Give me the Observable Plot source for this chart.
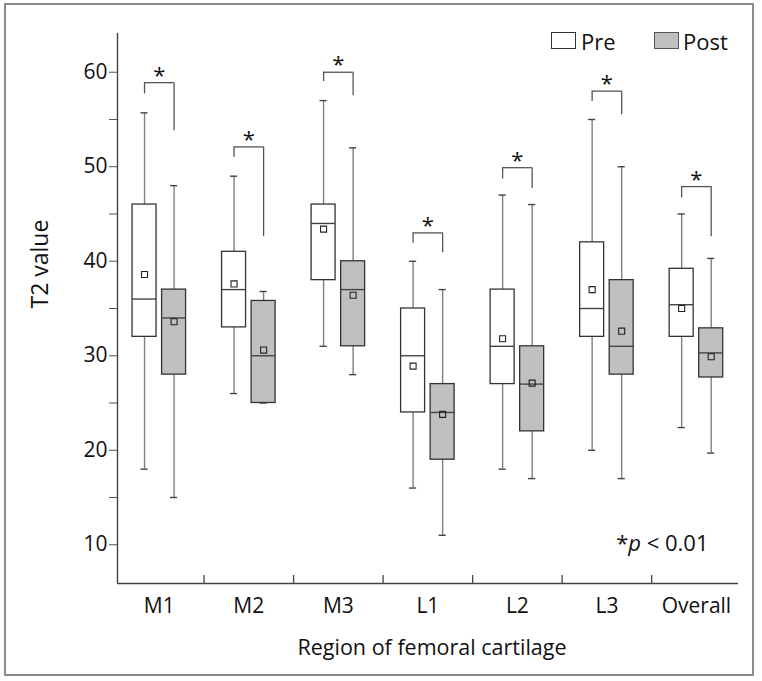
<!DOCTYPE html>
<html>
<head>
<meta charset="utf-8">
<script src="https://cdn.jsdelivr.net/npm/d3@7"></script>
<script src="https://cdn.jsdelivr.net/npm/@observablehq/plot@0.6"></script>
<style>
  body { margin: 0; background: #fff; }
  #wrap { position: relative; width: 762px; height: 681px; font-family: "Open Sans", sans-serif; color: #111; }
  #border { position: absolute; left: 4px; top: 3px; width: 746px; height: 669px; border: 2px solid #8c8c8c; pointer-events: none; }
  #chart svg { display: block; }
  .sw { position: absolute; width: 25px; height: 17px; box-sizing: border-box; border: 1.3px solid #333; }
  .lt { position: absolute; font-size: 22px; line-height: 22px; white-space: nowrap; }
</style>
</head>
<body>
<div id="wrap">
  <div id="chart"></div>
  <div id="legend"></div>
  <div id="border"></div>
</div>
<script>
// ---- data ----
const regions = ["M1", "M2", "M3", "L1", "L2", "L3", "Overall"];
const groups = ["Pre", "Post"];
const groupFill = ["#ffffff", "#c0c0c0"];

const preMin    = [18, 26, 31, 16, 18, 20, 22.4];
const preQ1     = [32, 33, 38, 24, 27, 32, 32];
const preMedian = [36, 37, 44, 30, 31, 35, 35.4];
const preQ3     = [46, 41, 46, 35, 37, 42, 39.2];
const preMax    = [55.7, 49, 57, 40, 47, 55, 45];
const preMean   = [38.6, 37.6, 43.4, 28.9, 31.8, 37, 35];

const postMin    = [15, 25, 28, 11, 17, 17, 19.7];
const postQ1     = [28, 25, 31, 19, 22, 28, 27.7];
const postMedian = [34, 30, 37, 24, 27, 31, 30.3];
const postQ3     = [37, 35.8, 40, 27, 31, 38, 32.9];
const postMax    = [48, 36.8, 52, 37, 46, 50, 40.3];
const postMean   = [33.6, 30.6, 36.4, 23.8, 27.1, 32.6, 29.9];

// significance brackets
const bracketTop     = [58.9, 52.1, 60, 43, 49.9, 58, 47.9];
const bracketPreEnd  = [57.7, 51, 59, 41.9, 48.7, 56.9, 46.7];
const bracketPostEnd = [53.8, 42.6, 57.5, 40.9, 47.7, 55.5, 42.6];
const sigMark = "*";
const pNote = "*p < 0.01";

const yTicks = [10, 20, 30, 40, 50, 60];
const yMinorTicks = [15, 25, 35, 45, 55];
const yTitle = "T2 value";
const xTitle = "Region of femoral cartilage";

// ---- build table ----
const dodge = {Pre: -0.165, Post: 0.165};
const halfBox = 0.134, halfCap = 0.04;
const stats = {
  Pre: [preMin, preQ1, preMedian, preQ3, preMax, preMean],
  Post: [postMin, postQ1, postMedian, postQ3, postMax, postMean]
};
const rows = regions.flatMap((r, i) => groups.map((g, gi) => {
  const [mn, q1, md, q3, mx, me] = stats[g];
  const xc = i + dodge[g];
  return {region: r, group: g, fill: groupFill[gi], xc, xl: xc - halfBox, xr: xc + halfBox,
          cl: xc - halfCap, cr: xc + halfCap,
          min: mn[i], q1: q1[i], median: md[i], q3: q3[i], max: mx[i], mean: me[i]};
}));
const brackets = regions.map((r, i) => ({
  xa: i + dodge.Pre, xb: i + dodge.Post, xm: i + (dodge.Pre + dodge.Post) / 2,
  top: bracketTop[i], a: bracketPreEnd[i], b: bracketPostEnd[i]
}));

const xDomain = [-0.467, 6.47];
const yDomain = [5.9, 64.1];
const boundaries = regions.slice(1).map((_, i) => i + 0.5);
const ink = "#111";

const chart = Plot.plot({
  width: 762,
  height: 681,
  marginLeft: 117,
  marginRight: 24,
  marginTop: 33,
  marginBottom: 98,
  style: {fontFamily: "Open Sans, sans-serif", fontSize: "21px", color: ink, background: "transparent"},
  x: {type: "linear", domain: xDomain},
  y: {domain: yDomain},
  marks: [
    // axis lines
    Plot.ruleX([xDomain[0]], {stroke: "#444", strokeWidth: 1.4}),
    Plot.ruleY([yDomain[0]], {stroke: "#444", strokeWidth: 1.4}),
    // boundary ticks between regions (pointing up)
    Plot.ruleX(boundaries, {stroke: "#444", strokeWidth: 1.3, insetTop: 542}),
    // y axis
    Plot.axisY({ticks: yTicks, tickSize: 8, tickPadding: 2, fontSize: 21, label: null, stroke: "#555"}),
    Plot.axisY({ticks: yMinorTicks, tickSize: 8, tickFormat: () => "", label: null, stroke: "#555"}),
    // x axis labels
    Plot.axisX({ticks: regions.map((_, i) => i), tickFormat: i => regions[i], tickSize: 0, tickPadding: 15, fontSize: 21, label: null}),
    // whiskers
    Plot.ruleX(rows, {x: "xc", y1: "min", y2: "q1", stroke: "#808080", strokeWidth: 1.4}),
    Plot.ruleX(rows, {x: "xc", y1: "q3", y2: "max", stroke: "#808080", strokeWidth: 1.4}),
    Plot.ruleY(rows, {y: "min", x1: "cl", x2: "cr", stroke: "#444", strokeWidth: 1.4}),
    Plot.ruleY(rows, {y: "max", x1: "cl", x2: "cr", stroke: "#444", strokeWidth: 1.4}),
    // boxes
    Plot.rect(rows, {x1: "xl", x2: "xr", y1: "q1", y2: "q3", fill: "fill", stroke: "#333", strokeWidth: 1.3}),
    Plot.ruleY(rows, {y: "median", x1: "xl", x2: "xr", stroke: "#444", strokeWidth: 1.4}),
    Plot.dot(rows, {x: "xc", y: "mean", symbol: "square", r: 3.4, stroke: "#222", strokeWidth: 1.1, fill: "none"}),
    // brackets
    Plot.ruleY(brackets, {y: "top", x1: "xa", x2: "xb", stroke: "#555", strokeWidth: 1.3}),
    Plot.ruleX(brackets, {x: "xa", y1: "a", y2: "top", stroke: "#555", strokeWidth: 1.3}),
    Plot.ruleX(brackets, {x: "xb", y1: "b", y2: "top", stroke: "#555", strokeWidth: 1.3}),
    Plot.text(brackets, {x: "xm", y: "top", text: () => sigMark, fontSize: 22, lineAnchor: "middle", dy: -7, fill: ink}),
    // p note
    Plot.text([pNote], {frameAnchor: "bottom-right", textAnchor: "end", lineAnchor: "middle", dx: -30, dy: -40, fontSize: 22, fill: ink}),
    // titles
    Plot.text([xTitle], {frameAnchor: "bottom", lineAnchor: "middle", dx: 4, dy: 65, fontSize: 21.5, fill: ink}),
    Plot.text([yTitle], {frameAnchor: "left", rotate: -90, lineAnchor: "middle", dx: -77, fontSize: 23, fill: ink})
  ]
});
document.getElementById("chart").append(chart);

// italic p in the note
d3.select(chart).selectAll("text").filter(function () { return this.textContent === pNote; })
  .each(function () {
    const t = d3.select(this);
    t.text(null);
    t.append("tspan").text("*");
    t.append("tspan").attr("font-style", "italic").text("p");
    t.append("tspan").text(" < 0.01");
  });

// legend
const legendPos = [{sw: 551, tx: 581}, {sw: 654, tx: 683}];
const leg = document.getElementById("legend");
groups.forEach((g, gi) => {
  const sw = document.createElement("div");
  sw.className = "sw";
  sw.style.left = legendPos[gi].sw + "px";
  sw.style.top = "32px";
  sw.style.background = groupFill[gi];
  if (gi === 1) sw.style.borderColor = "#555";
  leg.append(sw);
  const t = document.createElement("div");
  t.className = "lt";
  t.style.left = legendPos[gi].tx + "px";
  t.style.top = "30px";
  t.textContent = g;
  leg.append(t);
});
</script>
</body>
</html>
